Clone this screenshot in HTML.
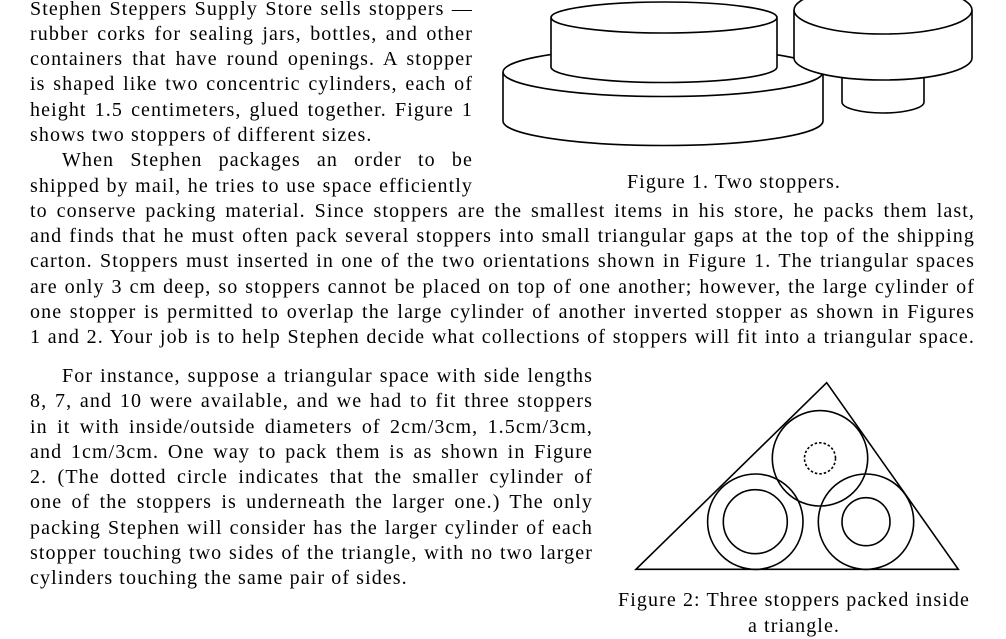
<!DOCTYPE html>
<html><head><meta charset="utf-8"><style>
body{margin:0;width:1006px;height:628px;overflow:hidden;background:#fff;position:relative;font-family:"Liberation Serif",serif;font-size:20px;letter-spacing:1.1px;color:#000}
.b{position:absolute;left:30px;line-height:25.3px}
.b div{text-align:justify;text-align-last:justify;white-space:nowrap}
.b div.l{text-align-last:left}
.i{padding-left:32px}
svg{position:absolute;left:0;top:0}
.c{position:absolute;line-height:25px;white-space:nowrap;text-align:center}
</style></head><body>
<div class="b" style="top:-3.5px;width:443px">
<div>Stephen Steppers Supply Store sells stoppers —</div>
<div>rubber corks for sealing jars, bottles, and other</div>
<div>containers that have round openings. A stopper</div>
<div>is shaped like two concentric cylinders, each of</div>
<div>height 1.5 centimeters, glued together. Figure 1</div>
<div class="l">shows two stoppers of different sizes.</div>
<div class="i">When Stephen packages an order to be</div>
<div>shipped by mail, he tries to use space efficiently</div>
</div>
<div class="b" style="top:198.9px;width:945px">
<div>to conserve packing material. Since stoppers are the smallest items in his store, he packs them last,</div>
<div>and finds that he must often pack several stoppers into small triangular gaps at the top of the shipping</div>
<div>carton. Stoppers must inserted in one of the two orientations shown in Figure 1. The triangular spaces</div>
<div>are only 3 cm deep, so stoppers cannot be placed on top of one another; however, the large cylinder of</div>
<div>one stopper is permitted to overlap the large cylinder of another inverted stopper as shown in Figures</div>
<div>1 and 2. Your job is to help Stephen decide what collections of stoppers will fit into a triangular space.</div>
</div>
<div class="b" style="top:364px;width:563px">
<div class="i">For instance, suppose a triangular space with side lengths</div>
<div>8, 7, and 10 were available, and we had to fit three stoppers</div>
<div>in it with inside/outside diameters of 2cm/3cm, 1.5cm/3cm,</div>
<div>and 1cm/3cm. One way to pack them is as shown in Figure</div>
<div>2. (The dotted circle indicates that the smaller cylinder of</div>
<div>one of the stoppers is underneath the larger one.) The only</div>
<div>packing Stephen will consider has the larger cylinder of each</div>
<div>stopper touching two sides of the triangle, with no two larger</div>
<div class="l">cylinders touching the same pair of sides.</div>
</div>
<div class="c" style="left:584px;width:300px;top:170px">Figure 1. Two stoppers.</div>
<div class="c" style="left:594px;width:400px;top:588px">Figure 2: Three stoppers packed inside</div>
<div class="c" style="left:594px;width:400px;top:614px">a triangle.</div>
<svg width="1006" height="628" fill="none" stroke="#000" stroke-width="1.6">
<path d="M503,72 V121 A160,24.5 0 0 0 823,121 V72" fill="#fff"/>
<ellipse cx="663" cy="72" rx="160" ry="24.5" fill="#fff"/>
<path d="M551,17.5 V67 A113,15.5 0 0 0 777,67 V17.5" fill="#fff"/>
<ellipse cx="664" cy="17.5" rx="113" ry="15.5" fill="#fff"/>
<path d="M842,70 V102 A41,11 0 0 0 924,102 V70" fill="#fff"/>
<path d="M794,10 V58 A89,22 0 0 0 972,58 V10" fill="#fff"/>
<ellipse cx="883" cy="10" rx="89" ry="24" fill="#fff"/>
<polygon points="826.7,382.7 636,569.3 958.3,569.3"/>
<circle cx="820" cy="458.3" r="47.7"/>
<circle cx="820" cy="458.3" r="15.5" stroke-dasharray="2.5,2"/>
<circle cx="755.3" cy="521.7" r="47.7"/>
<circle cx="755.3" cy="521.7" r="32"/>
<circle cx="866" cy="521.7" r="47.7"/>
<circle cx="866" cy="521.7" r="24"/>
</svg>
</body></html>
